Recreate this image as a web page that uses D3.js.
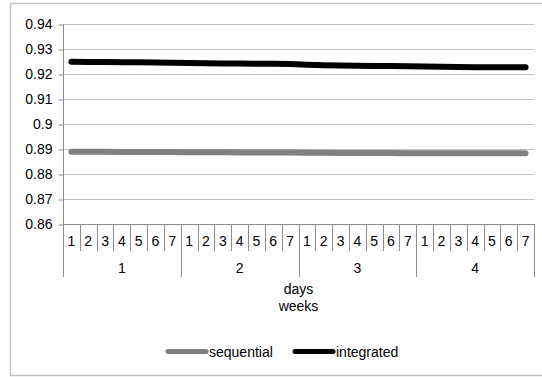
<!DOCTYPE html>
<html>
<head>
<meta charset="utf-8">
<script src="https://cdn.jsdelivr.net/npm/d3@7"></script>
<style>
  html, body { margin: 0; padding: 0; background: #fff; }
  svg { display: block; }
  text { font-family: "Liberation Sans", Arial, sans-serif; fill: #000; }
</style>
</head>
<body>
<svg id="chart" width="542" height="377"></svg>
<script>
// Weekly / daily measurements
const weeks = ["1", "2", "3", "4"];
const days = ["1", "2", "3", "4", "5", "6", "7"];
const yTicks = [0.86, 0.87, 0.88, 0.89, 0.9, 0.91, 0.92, 0.93, 0.94];

const sequential = [
  0.8889, 0.8889, 0.8889, 0.8888, 0.8888, 0.8888, 0.8888,
  0.8887, 0.8887, 0.8887, 0.8886, 0.8886, 0.8886, 0.8886,
  0.8885, 0.8885, 0.8884, 0.8884, 0.8884, 0.8884, 0.8883,
  0.8883, 0.8883, 0.8883, 0.8883, 0.8883, 0.8883, 0.8883
];
const integrated = [
  0.9249, 0.9248, 0.9248, 0.9247, 0.9247, 0.9246, 0.9245,
  0.9244, 0.9243, 0.9242, 0.9242, 0.9241, 0.9241, 0.9240,
  0.9237, 0.9235, 0.9234, 0.9233, 0.9232, 0.9232, 0.9231,
  0.9230, 0.9229, 0.9228, 0.9227, 0.9227, 0.9227, 0.9227
];

const seriesNames = ["sequential", "integrated"];
const seriesColors = ["#808080", "#000000"];
const seriesData = [sequential, integrated];

const FS = 14;
const svg = d3.select("#chart");
const plotLeft = 63, plotRight = 534, plotTop = 24, plotBottom = 224;

// outer frame
svg.append("rect")
  .attr("x", 10.5).attr("y", 3.5)
  .attr("width", 540).attr("height", 372)
  .attr("fill", "none").attr("stroke", "#c4c4c4").attr("stroke-width", 1.5);

const cats = d3.range(weeks.length * days.length);
const x = d3.scaleBand().domain(cats).range([plotLeft, plotRight]).padding(0);
const y = d3.scaleLinear().domain([0.86, 0.94]).range([plotBottom, plotTop]);

// gridlines
svg.append("g").selectAll("line")
  .data(yTicks.filter(t => t > 0.86))
  .join("line")
  .attr("x1", plotLeft).attr("x2", plotRight)
  .attr("y1", d => Math.round(y(d)) + 0.5).attr("y2", d => Math.round(y(d)) + 0.5)
  .attr("stroke", "#c0c0c0").attr("stroke-width", 1);

// y axis
const yAxis = d3.axisLeft(y).tickValues(yTicks).tickSize(5).tickPadding(6)
  .tickFormat(d => String(+d.toFixed(2)));
const gy = svg.append("g").attr("transform", `translate(${plotLeft + 0.5},0.5)`).call(yAxis);
gy.selectAll("line, path").attr("stroke", "#8c8c8c");
gy.select(".domain").attr("d", `M0,${plotTop}V${plotBottom}`);
gy.selectAll("text").attr("font-size", FS).attr("font-family", "Liberation Sans, Arial, sans-serif").attr("fill", "#000");

// category axis (days within weeks)
const gx = svg.append("g").attr("stroke", "#8c8c8c").attr("stroke-width", 1);
gx.append("line").attr("x1", plotLeft).attr("x2", plotRight + 0.5)
  .attr("y1", plotBottom + 0.5).attr("y2", plotBottom + 0.5);
cats.forEach(i => {
  const xb = Math.round(x(i)) + 0.5;
  const isWeekStart = i % days.length === 0;
  gx.append("line").attr("x1", xb).attr("x2", xb)
    .attr("y1", plotBottom).attr("y2", isWeekStart ? 277 : 251);
});
gx.append("line").attr("x1", plotRight + 0.5).attr("x2", plotRight + 0.5)
  .attr("y1", plotBottom).attr("y2", 277);

svg.append("g").selectAll("text")
  .data(cats)
  .join("text")
  .attr("x", i => x(i) + x.bandwidth() / 2)
  .attr("y", 245.5)
  .attr("text-anchor", "middle").attr("font-size", FS)
  .text(i => days[i % days.length]);

svg.append("g").selectAll("text")
  .data(weeks)
  .join("text")
  .attr("x", (w, k) => (x(k * days.length) + x(k * days.length + days.length - 1) + x.bandwidth()) / 2)
  .attr("y", 273)
  .attr("text-anchor", "middle").attr("font-size", FS)
  .text(w => w);

svg.append("text").attr("x", (plotLeft + plotRight) / 2).attr("y", 294)
  .attr("text-anchor", "middle").attr("font-size", FS).text("days");
svg.append("text").attr("x", (plotLeft + plotRight) / 2).attr("y", 311)
  .attr("text-anchor", "middle").attr("font-size", FS).text("weeks");

// series lines
const line = d3.line()
  .x((d, i) => x(i) + x.bandwidth() / 2)
  .y(d => y(d));

seriesData.forEach((data, s) => {
  svg.append("path")
    .datum(data)
    .attr("d", line)
    .attr("fill", "none")
    .attr("stroke", seriesColors[s])
    .attr("stroke-width", 6)
    .attr("stroke-linecap", "round")
    .attr("stroke-linejoin", "round");
});

// legend
const legendX = [168, 295];
const lg = svg.append("g");
seriesNames.forEach((name, s) => {
  lg.append("line")
    .attr("x1", legendX[s]).attr("x2", legendX[s] + 38)
    .attr("y1", 351.5).attr("y2", 351.5)
    .attr("stroke", seriesColors[s]).attr("stroke-width", 5)
    .attr("stroke-linecap", "round");
  lg.append("text")
    .attr("x", legendX[s] + 41).attr("y", 356.5)
    .attr("font-size", FS).text(name);
});
</script>
</body>
</html>
